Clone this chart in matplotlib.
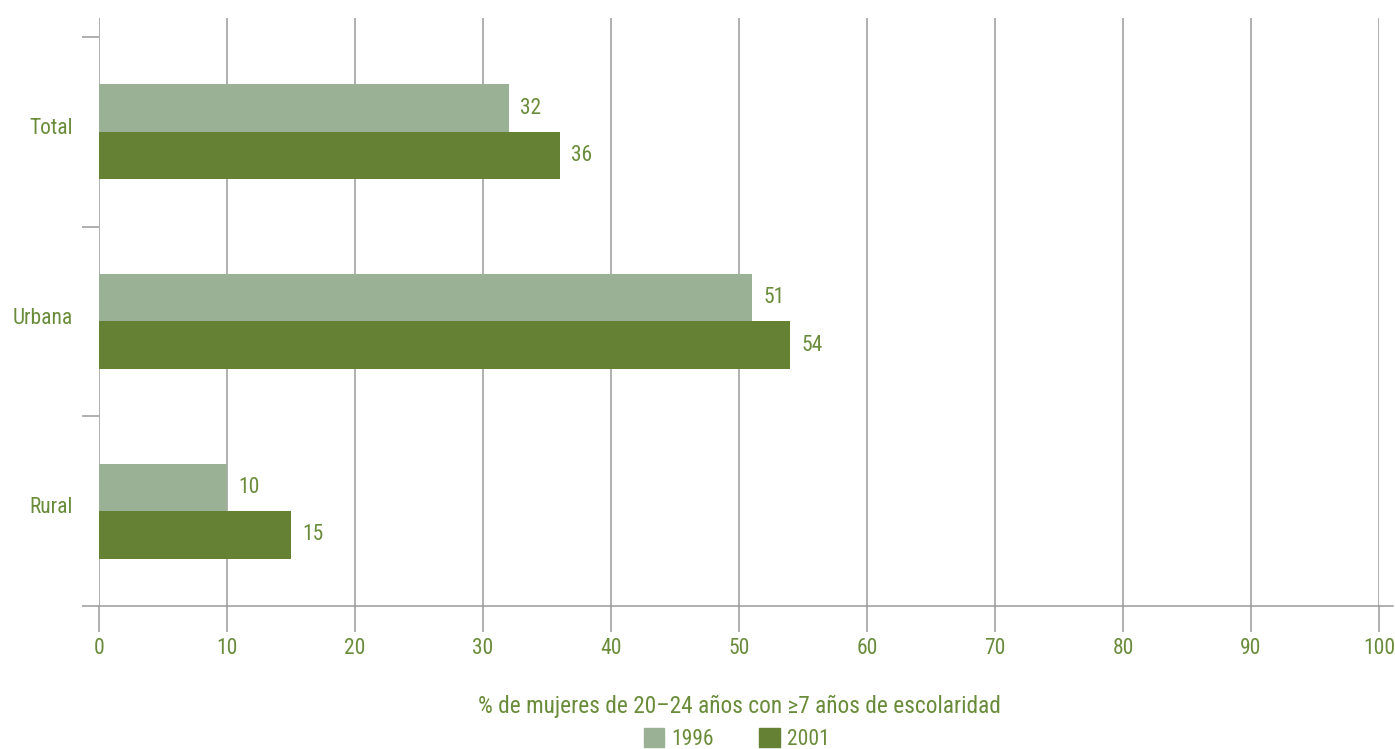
import matplotlib.pyplot as plt
import numpy as np
from matplotlib.patches import Patch

categories = ['Total', 'Urbana', 'Rural']
years = ['1996', '2001']
vals_1996 = [32, 51, 10]
vals_2001 = [36, 54, 15]

c_light = '#9bb196'
c_dark = '#658234'
c_text = '#6a8c3a'
c_grid = '#9a9a9a'

plt.rcParams['font.family'] = ['Roboto Condensed', 'Liberation Sans Narrow', 'Roboto', 'DejaVu Sans']
fs = 15.5

fig = plt.figure(figsize=(13.95, 7.49), dpi=100)
ax = fig.add_axes([99 / 1395, 1 - 606 / 749, 1280 / 1395, 588 / 749])

y = np.arange(len(categories))
h = 0.25
b1 = ax.barh(y - h / 2, vals_1996, height=h, color=c_light, zorder=3)
b2 = ax.barh(y + h / 2, vals_2001, height=h, color=c_dark, zorder=3)

for bars, vals in [(b1, vals_1996), (b2, vals_2001)]:
    for bar, v in zip(bars, vals):
        ax.text(v + 0.9, bar.get_y() + bar.get_height() / 2, str(v),
                va='center', ha='left', color=c_text, fontsize=fs)

ax.set_xlim(0, 100)
ax.set_ylim(2.5, -0.6)
ax.set_xticks(np.arange(0, 101, 10))
ax.set_yticks(y - 0.03)
ax.set_yticklabels(categories)
ax.set_yticks(np.arange(-0.5, 2.6, 1), minor=True)
ax.tick_params(axis='y', which='major', length=0, pad=19, labelsize=fs, labelcolor=c_text)
ax.tick_params(axis='y', which='minor', length=12, width=1.1, color=c_grid)
ax.tick_params(axis='x', length=19, width=1.1, color=c_grid, pad=4,
               labelsize=fs, labelcolor=c_text)
ax.grid(axis='x', color=c_grid, linewidth=1.1, zorder=0)

for s in ['top', 'right']:
    ax.spines[s].set_visible(False)
ax.spines['left'].set_visible(False)
ax.spines['bottom'].set_color(c_grid)
ax.spines['bottom'].set_linewidth(1.1)
ax.plot([100, 101.1], [2.5, 2.5], color=c_grid, lw=1.1, clip_on=False)

ax.set_xlabel('% de mujeres de 20\u201324 años con \u22657 años de escolaridad',
              color=c_text, fontsize=16.8, labelpad=26)

handles = [Patch(color=c_light), Patch(color=c_dark)]
fig.legend(handles, years, loc='center', bbox_to_anchor=(737 / 1395, 1 - 739 / 749),
           ncol=2, frameon=False, fontsize=fs, labelcolor=c_text,
           handlelength=0.95, handleheight=0.95, handletextpad=0.35, columnspacing=2.1,
           borderpad=0.2)

fig.savefig('out.png', dpi=100)
